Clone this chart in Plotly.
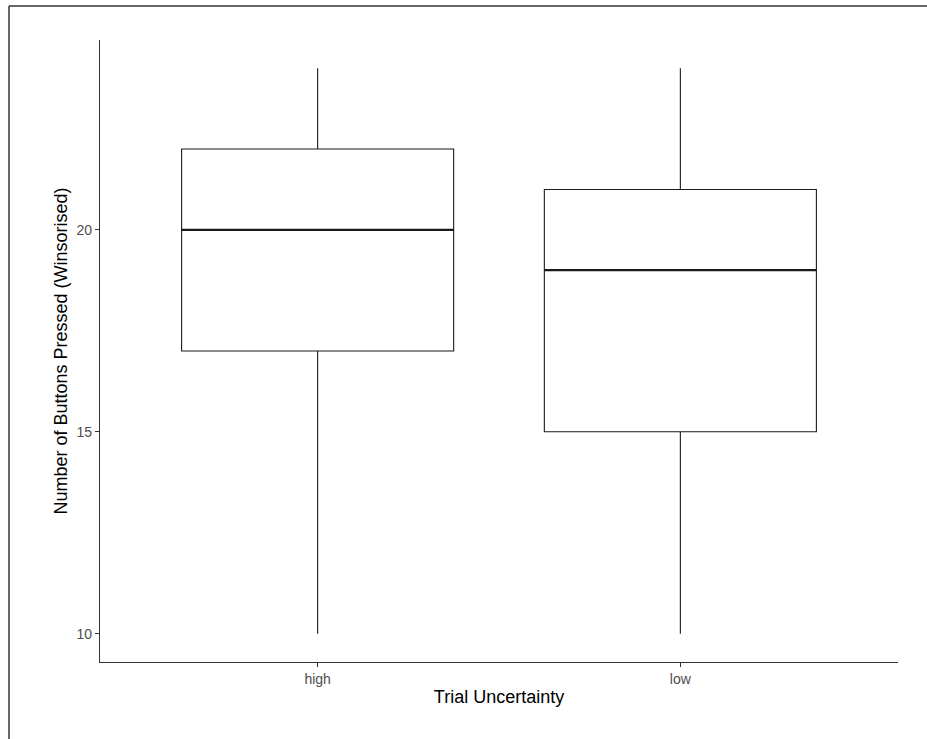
import plotly.graph_objects as go

categories = ["high", "low"]
lower_whisker = [10, 10]
q1 = [17, 15]
median = [20, 19]
q3 = [22, 21]
upper_whisker = [24, 24]

y_ticks = [10, 15, 20]

W, H = 927, 739
ml, mr, mt, mb = 100, 29, 40, 77
pw, ph = W - ml - mr, H - mt - mb

positions = list(range(len(categories)))
box_width = 0.75

fig = go.Figure()
for i, cat in enumerate(categories):
    fig.add_trace(go.Box(
        x=[positions[i]], q1=[q1[i]], median=[median[i]], q3=[q3[i]],
        lowerfence=[lower_whisker[i]], upperfence=[upper_whisker[i]],
        name=cat, width=box_width, whiskerwidth=0,
        line=dict(color="#1a1a1a", width=1.1), fillcolor="white",
        showlegend=False, hoverinfo="skip",
    ))
    fig.add_trace(go.Scatter(
        x=[positions[i] - box_width / 2, positions[i] + box_width / 2],
        y=[median[i], median[i]], mode="lines",
        line=dict(color="#1a1a1a", width=2.2), showlegend=False, hoverinfo="skip",
    ))

def px_x(p):
    return (p - ml) / pw

def px_y(p):
    return 1 - (p - mt) / ph

# outer frame of the screenshot (left and top edges only)
fig.add_shape(type="line", xref="paper", yref="paper",
              x0=px_x(9), x1=px_x(9), y0=px_y(739), y1=px_y(6),
              line=dict(color="#333333", width=1.5))
fig.add_shape(type="line", xref="paper", yref="paper",
              x0=px_x(9), x1=px_x(927), y0=px_y(6), y1=px_y(6),
              line=dict(color="#333333", width=1.5))

fig.update_layout(
    width=W, height=H,
    margin=dict(l=ml, r=mr, t=mt, b=mb),
    paper_bgcolor="white", plot_bgcolor="white",
    font=dict(family="Liberation Sans, Arial, sans-serif"),
    xaxis=dict(
        range=[-0.6, 1.6], tickvals=positions, ticktext=categories,
        showline=True, linecolor="#333333", linewidth=1.3,
        ticks="outside", ticklen=4, tickcolor="#333333", tickwidth=1,
        showgrid=False, zeroline=False,
        tickfont=dict(size=14, color="#4d4d4d"),
        title=dict(text="Trial Uncertainty", font=dict(size=18, color="black"), standoff=4),
    ),
    yaxis=dict(
        range=[9.3, 24.7], tickvals=y_ticks,
        showline=True, linecolor="#333333", linewidth=1.3,
        ticks="outside", ticklen=4, tickcolor="#333333", tickwidth=1,
        showgrid=False, zeroline=False,
        tickfont=dict(size=14, color="#4d4d4d"),
        title=dict(text="Number of Buttons Pressed (Winsorised)", font=dict(size=18, color="black"), standoff=4),
    ),
)

fig.write_html("out.html", config={"displayModeBar": False},
               post_script="document.body.style.margin='0';document.body.style.overflow='hidden';")
